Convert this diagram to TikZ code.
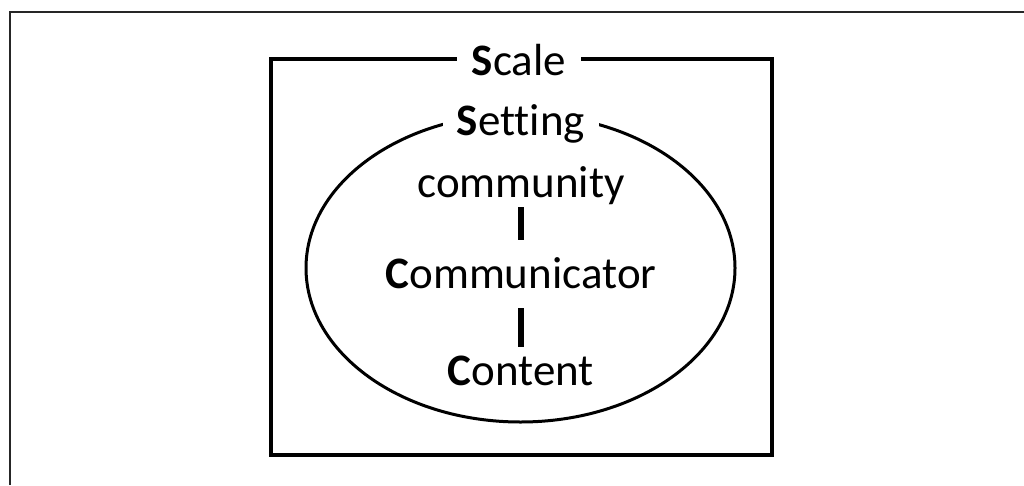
\documentclass[tikz,border=0pt]{standalone}
\usepackage{fontspec}
\setmainfont[Ligatures=CommonOff]{Carlito}
\tikzset{
  word/.style={anchor=base, inner sep=0pt, text height=30pt, text depth=10pt,
    font=\fontsize{45}{50}\selectfont},
  tag/.style={word, fill=white, inner xsep=15pt},
  link/.style={line width=6.5pt}
}
\begin{document}
\begin{tikzpicture}[x=1pt,y=1pt]
  \useasboundingbox (0,0) rectangle (1024,-485);
  \draw[line width=1.5pt, black!85] (10,-485) -- (10,-12) -- (1024,-12);
  % frame and oval
  \draw[line width=3.5pt] (271,-59) rectangle (772,-455);
  \draw[line width=3pt] (520.5,-268) ellipse [x radius=214.5, y radius=154];
  \node[tag] (scale) at (519,-75) {\textbf{S}cale};
  \node[tag, inner xsep=14pt] (setting) at (521,-135) {\textbf{S}etting};
  \node[word] (community) at (521,-197) {community};
  \node[word] (communicator) at (521,-288) {\textbf{C}ommunicator};
  \node[word] (content) at (521,-385) {\textbf{C}ontent};
  \draw[link, shorten >=18pt] (community) -- (communicator);
  \draw[link, shorten <=10pt, shorten >=8pt] (communicator) -- (content);
\end{tikzpicture}
\end{document}
